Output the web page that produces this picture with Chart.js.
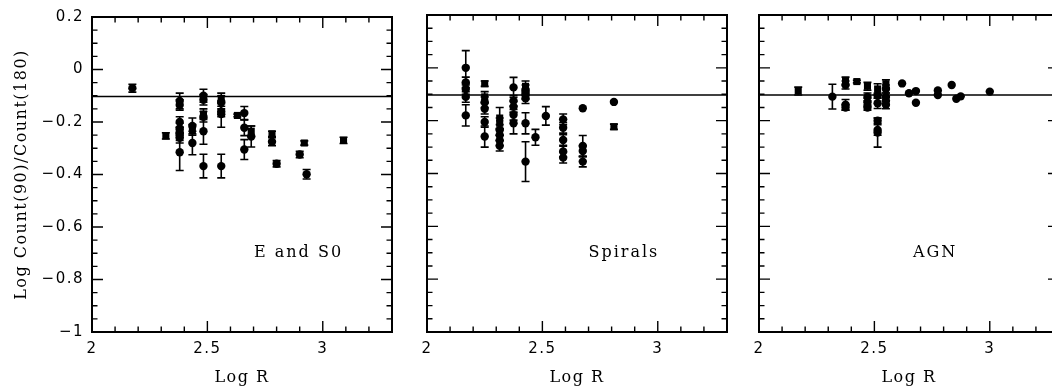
<!DOCTYPE html>
<html>
<head>
<meta charset="utf-8">
<title>Log Count(90)/Count(180) vs Log R</title>
<script src="https://cdn.jsdelivr.net/npm/chart.js@4.4.1/dist/chart.umd.min.js"></script>
<style>
    html, body { margin: 0; padding: 0; background: #fff; width: 1052px; height: 391px; overflow: hidden; }
    .panel { position: absolute; top: 0; }
</style>
</head>
<body>
<canvas id="panel-es0" class="panel" style="left:0" width="400" height="391"></canvas>
<canvas id="panel-sp" class="panel" style="left:410px" width="325" height="391"></canvas>
<canvas id="panel-agn" class="panel" style="left:742px" width="325" height="391"></canvas>
<script>
(function () {
    'use strict';

    // ---- E and S0 ----
    var eS0LogR = [2.175, 2.38, 2.38, 2.38, 2.38, 2.38, 2.38, 2.38, 2.38, 2.435, 2.435,
        2.483, 2.483, 2.483, 2.483, 2.483, 2.56, 2.56, 2.56, 2.56, 2.66, 2.66, 2.66,
        2.69, 2.78, 2.80, 2.90, 2.93];
    var eS0Ratio = [-0.071, -0.12, -0.135, -0.20, -0.225, -0.24, -0.25, -0.26, -0.315, -0.215, -0.28,
        -0.10, -0.115, -0.18, -0.235, -0.368, -0.125, -0.16, -0.17, -0.368, -0.166, -0.222, -0.305,
        -0.255, -0.275, -0.359, -0.324, -0.399];
    var eS0Err = [0.015, 0.03, 0.02, 0.02, 0.02, 0.02, 0.02, 0.02, 0.07, 0.03, 0.045,
        0.025, 0.02, 0.02, 0.05, 0.045, 0.025, 0.02, 0.05, 0.045, 0.025, 0.03, 0.038,
        0.04, 0.015, 0.012, 0.012, 0.018];
    var eS0SqLogR = [2.32, 2.435, 2.483, 2.56, 2.63, 2.69, 2.78, 2.92, 3.09];
    var eS0SqRatio = [-0.253, -0.23, -0.17, -0.11, -0.175, -0.235, -0.245, -0.28, -0.27];
    var eS0SqErr = [0.012, 0.02, 0.02, 0.02, 0.005, 0.02, 0.01, 0.008, 0.012];

    // ---- Spirals ----
    var spLogR = [2.168, 2.168, 2.168, 2.168, 2.168, 2.25, 2.25, 2.25, 2.25,
        2.315, 2.315, 2.315, 2.315, 2.375, 2.375, 2.375, 2.375, 2.375,
        2.427, 2.427, 2.427, 2.427, 2.427, 2.47, 2.515, 2.59, 2.59, 2.59, 2.59, 2.59,
        2.675, 2.675, 2.675, 2.675, 2.81];
    var spRatio = [0.0, -0.055, -0.08, -0.11, -0.18, -0.13, -0.155, -0.205, -0.26,
        -0.235, -0.255, -0.275, -0.295, -0.074, -0.125, -0.147, -0.178, -0.21,
        -0.085, -0.10, -0.115, -0.21, -0.355, -0.263, -0.182, -0.195, -0.227, -0.273, -0.317, -0.34,
        -0.153, -0.296, -0.315, -0.355, -0.129];
    var spErr = [0.065, 0.02, 0.02, 0.02, 0.04, 0.02, 0.02, 0.02, 0.04,
        0.02, 0.02, 0.02, 0.02, 0.038, 0.02, 0.02, 0.02, 0.04,
        0.02, 0.02, 0.02, 0.04, 0.075, 0.03, 0.035, 0.02, 0.02, 0.02, 0.02, 0.02,
        0, 0.04, 0.02, 0.02, 0];
    var spSqLogR = [2.25, 2.25, 2.315, 2.315, 2.427, 2.81];
    var spSqRatio = [-0.06, -0.11, -0.19, -0.21, -0.07, -0.223];
    var spSqErr = [0.01, 0.02, 0.04, 0.02, 0.02, 0.01];

    // ---- AGN ----
    var agnLogR = [2.318, 2.375, 2.375, 2.375, 2.47, 2.47, 2.47,
        2.514, 2.514, 2.514, 2.514, 2.514, 2.55, 2.55, 2.55, 2.55,
        2.62, 2.65, 2.68, 2.68, 2.775, 2.775, 2.835, 2.855, 2.874, 3.0];
    var agnRatio = [-0.109, -0.065, -0.14, -0.15, -0.11, -0.13, -0.15,
        -0.105, -0.134, -0.20, -0.235, -0.245, -0.08, -0.11, -0.125, -0.14,
        -0.059, -0.096, -0.088, -0.132, -0.086, -0.103, -0.065, -0.117, -0.108, -0.09];
    var agnErr = [0.047, 0.015, 0.02, 0.01, 0.015, 0.015, 0.01,
        0.01, 0.02, 0.01, 0.02, 0.055, 0.015, 0.015, 0.015, 0.015,
        0, 0, 0, 0, 0, 0, 0, 0, 0, 0];
    var agnSqLogR = [2.17, 2.375, 2.424, 2.47, 2.514, 2.55];
    var agnSqRatio = [-0.088, -0.05, -0.052, -0.07, -0.08, -0.06];
    var agnSqErr = [0.015, 0.015, 0.005, 0.015, 0.02, 0.015];

    // reference line
    var refLogR = [2, 3.3];
    var refRatio = [-0.103, -0.103];

    // axes
    var xTickValues = [2, 2.5, 3];
    var xTickLabels = ['2', '2.5', '3'];
    var yTickValues = [0.2, 0, -0.2, -0.4, -0.6, -0.8, -1];
    var yTickLabels = ['0.2', '0', '\u22120.2', '\u22120.4', '\u22120.6', '\u22120.8', '\u22121'];

    var INK = '#000';
    var SERIF = '"DejaVu Serif", serif';
    var SANS = '"DejaVu Sans", sans-serif';

    function pts(xs, ys) {
        var out = [];
        for (var i = 0; i < xs.length; i++) {
            out.push({ x: xs[i], y: ys[i] });
        }
        return out;
    }

    function labelFor(v, values, labels) {
        for (var i = 0; i < values.length; i++) {
            if (Math.abs(v - values[i]) < 1e-6) {
                return labels[i];
            }
        }
        return null;
    }

    // error bars, frame, inside tick marks, panel caption
    var decorPlugin = {
        id: 'decor',
        beforeDraw: function (chart) {
            chart.ctx.letterSpacing = '1.5px';
        },
        afterDatasetsDraw: function (chart) {
            var ctx = chart.ctx;
            var xs = chart.scales.x, ys = chart.scales.y;
            ctx.save();
            ctx.strokeStyle = INK;
            ctx.lineWidth = 1.6;
            chart.data.datasets.forEach(function (ds) {
                if (!ds.errors) {
                    return;
                }
                ds.data.forEach(function (p, i) {
                    var e = ds.errors[i];
                    if (!e) {
                        return;
                    }
                    var px = xs.getPixelForValue(p.x);
                    var y1 = ys.getPixelForValue(p.y + e);
                    var y2 = ys.getPixelForValue(p.y - e);
                    ctx.beginPath();
                    ctx.moveTo(px, y1);
                    ctx.lineTo(px, y2);
                    ctx.moveTo(px - 4, y1);
                    ctx.lineTo(px + 4, y1);
                    ctx.moveTo(px - 4, y2);
                    ctx.lineTo(px + 4, y2);
                    ctx.stroke();
                });
            });
            ctx.restore();
        },
        afterDraw: function (chart) {
            var ctx = chart.ctx;
            var a = chart.chartArea;
            var xs = chart.scales.x, ys = chart.scales.y;
            ctx.save();
            ctx.strokeStyle = INK;
            ctx.lineWidth = 2;
            ctx.strokeRect(a.left, a.top, a.right - a.left, a.bottom - a.top);
            ctx.lineWidth = 1.4;
            ctx.beginPath();
            xs.ticks.forEach(function (t) {
                var px = xs.getPixelForValue(t.value);
                var len = labelFor(t.value, xTickValues, xTickLabels) !== null ? 11 : 5.5;
                ctx.moveTo(px, a.bottom);
                ctx.lineTo(px, a.bottom - len);
                ctx.moveTo(px, a.top);
                ctx.lineTo(px, a.top + len);
            });
            ys.ticks.forEach(function (t) {
                var py = ys.getPixelForValue(t.value);
                var len = labelFor(t.value, yTickValues, yTickLabels) !== null ? 11 : 5.5;
                ctx.moveTo(a.left, py);
                ctx.lineTo(a.left + len, py);
                ctx.moveTo(a.right, py);
                ctx.lineTo(a.right - len, py);
            });
            ctx.stroke();

            var cap = chart.options.plugins.decor;
            ctx.fillStyle = INK;
            ctx.font = '16px ' + SERIF;
            ctx.letterSpacing = '2px';
            ctx.textAlign = 'center';
            ctx.textBaseline = 'middle';
            ctx.fillText(cap.caption, xs.getPixelForValue(cap.at[0]), ys.getPixelForValue(cap.at[1]));
            ctx.restore();
        }
    };

    function makePanel(id, opts) {
        var canvas = document.getElementById(id);
        var datasets = [
            {
                type: 'line',
                data: pts(refLogR, refRatio),
                borderColor: INK,
                borderWidth: 1.6,
                pointRadius: 0,
                fill: false
            },
            {
                data: pts(opts.xs, opts.ys),
                errors: opts.errs,
                pointStyle: 'circle',
                pointRadius: 4.2,
                backgroundColor: INK,
                borderColor: INK,
                borderWidth: 0
            },
            {
                data: pts(opts.sqXs, opts.sqYs),
                errors: opts.sqErrs,
                pointStyle: 'rect',
                pointRadius: 5,
                backgroundColor: INK,
                borderColor: INK,
                borderWidth: 0
            }
        ];

        new Chart(canvas, {
            type: 'scatter',
            data: { datasets: datasets },
            plugins: [decorPlugin],
            options: {
                responsive: false,
                animation: false,
                events: [],
                layout: { padding: { top: 15, right: 6, left: 0, bottom: 0 } },
                plugins: {
                    legend: { display: false },
                    tooltip: { enabled: false },
                    decor: { caption: opts.caption, at: opts.captionAt }
                },
                scales: {
                    x: {
                        type: 'linear',
                        min: 2,
                        max: 3.3,
                        grid: { display: false, drawTicks: false },
                        border: { display: false },
                        ticks: {
                            stepSize: 0.1,
                            autoSkip: false,
                            maxRotation: 0,
                            padding: 8,
                            color: INK,
                            font: { family: SANS, size: 15 },
                            callback: function (v) {
                                var s = labelFor(v, xTickValues, xTickLabels);
                                return s === null ? '' : s;
                            }
                        },
                        title: {
                            display: true,
                            text: 'Log R',
                            color: INK,
                            font: { family: SERIF, size: 16 },
                            padding: { top: 0, bottom: 4 }
                        },
                        afterFit: function (scale) {
                            scale.height = 59;
                        }
                    },
                    y: {
                        type: 'linear',
                        min: -1,
                        max: 0.2,
                        grid: { display: false, drawTicks: false },
                        border: { display: false },
                        ticks: {
                            display: opts.yLabels,
                            stepSize: 0.05,
                            autoSkip: false,
                            padding: 8,
                            color: INK,
                            font: { family: SANS, size: 15 },
                            callback: function (v) {
                                var s = labelFor(v, yTickValues, yTickLabels);
                                return s === null ? '' : s;
                            }
                        },
                        title: {
                            display: opts.yLabels,
                            text: 'Log Count(90)/Count(180)',
                            color: INK,
                            font: { family: SERIF, size: 16 },
                            padding: { top: 12, bottom: 0 }
                        },
                        afterFit: function (scale) {
                            scale.width = opts.yWidth;
                        }
                    }
                }
            }
        });
    }

    makePanel('panel-es0', {
        xs: eS0LogR, ys: eS0Ratio, errs: eS0Err,
        sqXs: eS0SqLogR, sqYs: eS0SqRatio, sqErrs: eS0SqErr,
        caption: 'E and S0', captionAt: [2.895, -0.70],
        yLabels: true, yWidth: 92
    });
    makePanel('panel-sp', {
        xs: spLogR, ys: spRatio, errs: spErr,
        sqXs: spSqLogR, sqYs: spSqRatio, sqErrs: spSqErr,
        caption: 'Spirals', captionAt: [2.853, -0.70],
        yLabels: false, yWidth: 17
    });
    makePanel('panel-agn', {
        xs: agnLogR, ys: agnRatio, errs: agnErr,
        sqXs: agnSqLogR, sqYs: agnSqRatio, sqErrs: agnSqErr,
        caption: 'AGN', captionAt: [2.763, -0.70],
        yLabels: false, yWidth: 17
    });
})();
</script>
</body>
</html>
